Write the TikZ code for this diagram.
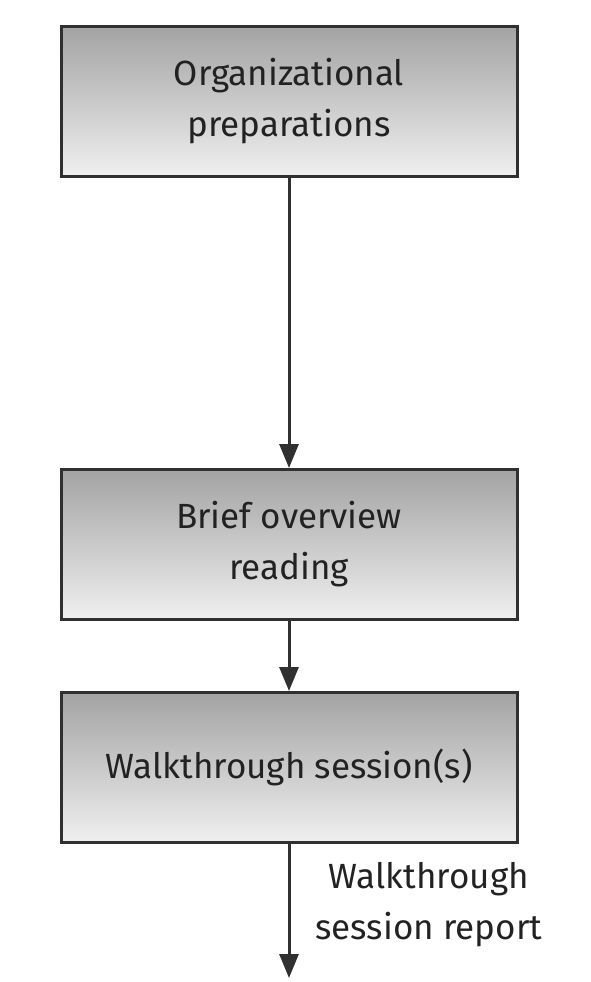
\documentclass[tikz,border=0pt]{standalone}
\usepackage{fontspec}
\setmainfont{Fira Sans}
\usepackage{tikz}
\usetikzlibrary{positioning,arrows.meta}
\definecolor{ink}{HTML}{222222}
\definecolor{frame}{HTML}{303030}
\tikzset{
  stagebox/.style={draw=frame, line width=3pt, align=center, top color=black!36, bottom color=black!6, minimum width=456pt, minimum height=150pt, text=ink, font=\fontsize{35}{51}\selectfont},
  flowarrow/.style={-{Triangle[length=24pt,width=19pt]}, line width=3pt, draw=frame},
  notelabel/.style={align=center, text=ink, font=\fontsize{35}{51}\selectfont}
}
\begin{document}
\begin{tikzpicture}[x=1pt, y=1pt, node distance=290pt]
  \useasboundingbox (0,0) rectangle (590,-982);
  \node[stagebox] (prep) at (289,-101.5) {Organizational\\preparations};
  \node[stagebox, below=290pt of prep] (overview) {Brief overview\\reading};
  \node[stagebox, below=70pt of overview] (session) {Walkthrough session(s)};
  \coordinate[below=134pt of session] (out);
  \draw[flowarrow] (prep) -- (overview);
  \draw[flowarrow] (overview) -- (session);
  \draw[flowarrow] (session) -- (out);
  \node[notelabel, anchor=west] (report) at (312,-905) {Walkthrough\\session report};
\end{tikzpicture}
\end{document}
